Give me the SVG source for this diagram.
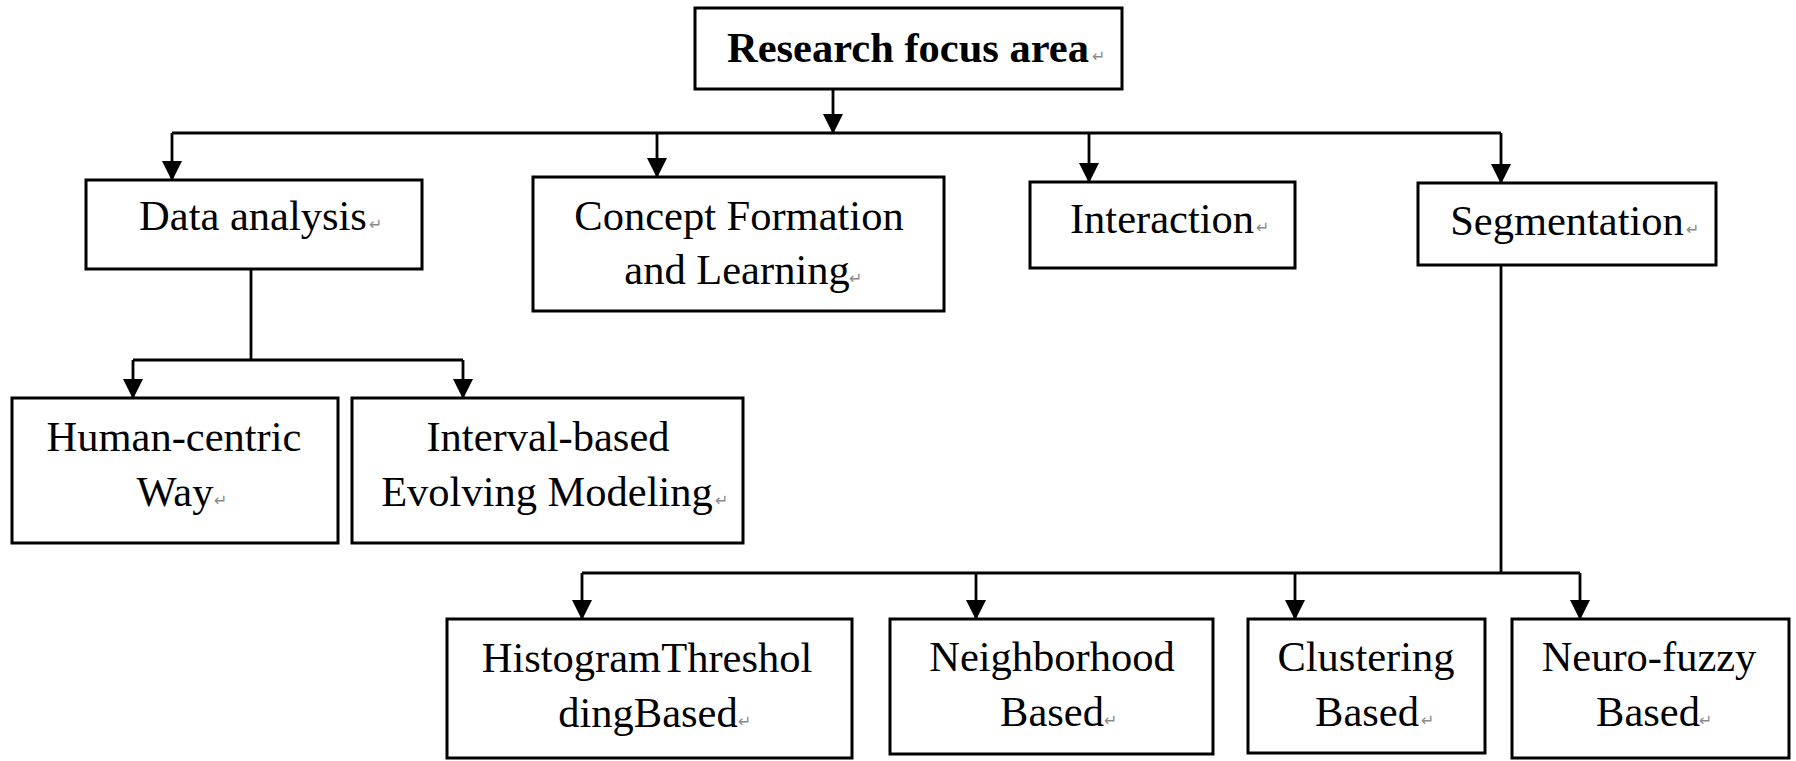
<svg xmlns="http://www.w3.org/2000/svg" width="1796" height="761" viewBox="0 0 1796 761">
<style>
.box{fill:#fff;stroke:#000;stroke-width:3}
.t{font-family:"Liberation Serif","Times New Roman",serif;font-size:42.5px;fill:#000;text-anchor:middle}
.b{font-weight:bold}
.pm{font-family:"DejaVu Sans",sans-serif;font-size:16px;fill:#8a8a8a}
.c{fill:none;stroke:#000;stroke-width:2.8}
</style>
<defs>
<marker id="ah" markerUnits="userSpaceOnUse" markerWidth="22" markerHeight="22" refX="20" refY="10" orient="auto">
<path d="M0,0 L20,10 L0,20 Z" fill="#000"/>
</marker>
</defs>
<rect width="1796" height="761" fill="#fff"/>
<g id="connectors">
<line class="c" x1="833" y1="89" x2="833" y2="134" marker-end="url(#ah)"/>
<line class="c" x1="172" y1="133" x2="1501" y2="133"/>
<line class="c" x1="172" y1="133" x2="172" y2="181" marker-end="url(#ah)"/>
<line class="c" x1="657" y1="133" x2="657" y2="178" marker-end="url(#ah)"/>
<line class="c" x1="1089" y1="133" x2="1089" y2="183" marker-end="url(#ah)"/>
<line class="c" x1="1501" y1="133" x2="1501" y2="184" marker-end="url(#ah)"/>
<line class="c" x1="251" y1="269" x2="251" y2="360"/>
<line class="c" x1="133" y1="360" x2="463" y2="360"/>
<line class="c" x1="133" y1="360" x2="133" y2="399" marker-end="url(#ah)"/>
<line class="c" x1="463" y1="360" x2="463" y2="399" marker-end="url(#ah)"/>
<line class="c" x1="1501" y1="265" x2="1501" y2="573"/>
<line class="c" x1="582" y1="573" x2="1580" y2="573"/>
<line class="c" x1="582" y1="573" x2="582" y2="620" marker-end="url(#ah)"/>
<line class="c" x1="976" y1="573" x2="976" y2="620" marker-end="url(#ah)"/>
<line class="c" x1="1295" y1="573" x2="1295" y2="620" marker-end="url(#ah)"/>
<line class="c" x1="1580" y1="573" x2="1580" y2="620" marker-end="url(#ah)"/>
</g>
<g id="research">
<rect class="box" x="695" y="8" width="427" height="81"/>
<text class="t b" x="908" y="62">Research focus area</text>
<text class="pm" x="1092" y="62">↵</text>
</g>
<g id="data-analysis">
<rect class="box" x="86" y="180" width="336" height="89"/>
<text class="t" x="253" y="230">Data analysis</text>
<text class="pm" x="369" y="230">↵</text>
</g>
<g id="concept">
<rect class="box" x="533" y="177" width="411" height="134"/>
<text class="t" x="739" y="230">Concept Formation</text>
<text class="t" x="737" y="284">and Learning</text>
<text class="pm" x="849" y="284">↵</text>
</g>
<g id="interaction">
<rect class="box" x="1030" y="182" width="265" height="86"/>
<text class="t" x="1162" y="233">Interaction</text>
<text class="pm" x="1256" y="233">↵</text>
</g>
<g id="segmentation">
<rect class="box" x="1418" y="183" width="298" height="82"/>
<text class="t" x="1567" y="235">Segmentation</text>
<text class="pm" x="1686" y="235">↵</text>
</g>
<g id="human-centric">
<rect class="box" x="12" y="398" width="326" height="145"/>
<text class="t" x="174" y="451">Human-centric</text>
<text class="t" x="175" y="506">Way</text>
<text class="pm" x="214" y="506">↵</text>
</g>
<g id="interval">
<rect class="box" x="352" y="398" width="391" height="145"/>
<text class="t" x="548" y="451">Interval-based</text>
<text class="t" x="547" y="506">Evolving Modeling</text>
<text class="pm" x="715" y="506">↵</text>
</g>
<g id="histogram">
<rect class="box" x="447" y="619" width="405" height="139"/>
<text class="t" x="647" y="672">HistogramThreshol</text>
<text class="t" x="648" y="727">dingBased</text>
<text class="pm" x="738" y="727">↵</text>
</g>
<g id="neighborhood">
<rect class="box" x="890" y="619" width="323" height="135"/>
<text class="t" x="1052" y="671">Neighborhood</text>
<text class="t" x="1052" y="726">Based</text>
<text class="pm" x="1104" y="726">↵</text>
</g>
<g id="clustering">
<rect class="box" x="1248" y="619" width="237" height="134"/>
<text class="t" x="1366" y="671">Clustering</text>
<text class="t" x="1367" y="726">Based</text>
<text class="pm" x="1421" y="726">↵</text>
</g>
<g id="neuro-fuzzy">
<rect class="box" x="1512" y="619" width="277" height="139"/>
<text class="t" x="1649" y="671">Neuro-fuzzy</text>
<text class="t" x="1648" y="726">Based</text>
<text class="pm" x="1699" y="726">↵</text>
</g>
</svg>
